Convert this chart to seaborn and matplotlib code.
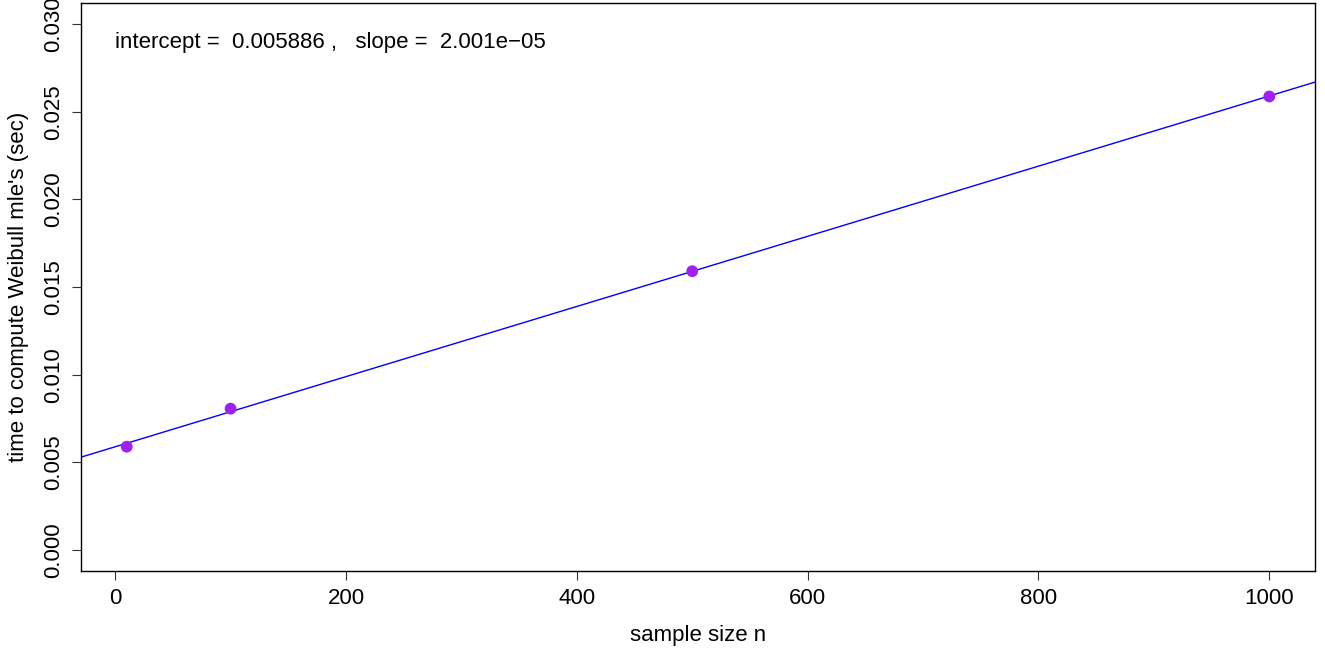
import numpy as np
import pandas as pd
import matplotlib
matplotlib.use("Agg")
import matplotlib.pyplot as plt
import seaborn as sns

# Timing of Weibull maximum-likelihood fits versus sample size
sample_size = [10, 100, 500, 1000]
seconds = [0.00589, 0.00806, 0.01590, 0.02587]

# Least-squares fit reported on the chart
intercept = 0.005886
slope = 2.001e-05

x_ticks = [0, 200, 400, 600, 800, 1000]
y_ticks = [0.000, 0.005, 0.010, 0.015, 0.020, 0.025, 0.030]

sns.set_style("ticks")
plt.rcParams["font.family"] = ["Liberation Sans", "DejaVu Sans"]
plt.rcParams["axes.linewidth"] = 1.0
for key in ("text.color", "axes.labelcolor", "xtick.labelcolor", "ytick.labelcolor"):
    plt.rcParams[key] = "black"

df = pd.DataFrame({"n": sample_size, "sec": seconds})

fig = plt.figure(figsize=(13.25, 6.51), dpi=100)
ax = fig.add_axes([81 / 1325, 1 - 571 / 651, (1315 - 81) / 1325, (571 - 3) / 651])

sns.scatterplot(data=df, x="n", y="sec", ax=ax, color="#A020F0", s=72,
                edgecolor="none", zorder=3)
ax.axline((0, intercept), slope=slope, color="#0000FF", lw=1.0, zorder=2)

ax.set_xlim(-29.6, 1039.6)
ax.set_ylim(-0.0012, 0.0312)
ax.set_xticks(x_ticks)
ax.set_xticklabels([str(v) for v in x_ticks])
ax.set_yticks(y_ticks)
ax.set_yticklabels([f"{v:.3f}" for v in y_ticks], rotation=90, va="center")

for s in ax.spines.values():
    s.set_visible(True)
    s.set_color("black")
    s.set_linewidth(1.0)

ax.tick_params(axis="both", direction="out", length=6.5, width=0.8,
               labelsize=16, color="#333333")
ax.tick_params(axis="x", pad=6)
ax.tick_params(axis="y", pad=6)

ax.set_xlabel("sample size n", fontsize=16, labelpad=11)
ax.set_ylabel("time to compute Weibull mle's (sec)", fontsize=16, labelpad=10)

ax.text(0, 0.02892,
        f"intercept =  {intercept:.6f} ,   slope =  {slope:.3e}".replace("e-", "e\u2212"),
        fontsize=16, ha="left", va="center")

fig.savefig("out.png", dpi=100)
